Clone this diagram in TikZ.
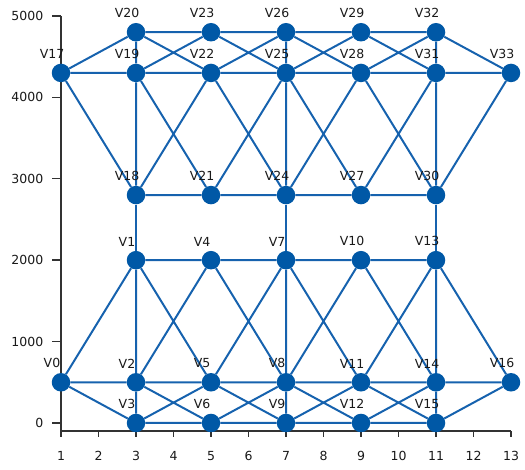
\documentclass[tikz,border=0pt]{standalone}
\usepackage{fontspec}
\setmainfont{DejaVu Sans}
\usetikzlibrary{backgrounds}
\definecolor{nodeblue}{RGB}{0,88,166}
\definecolor{edgeblue}{RGB}{22,98,174}
\definecolor{axisgray}{RGB}{50,50,50}

\begin{document}
\begin{tikzpicture}[x=37.5pt,y=0.0814pt,shift={(23.5pt,47pt)}]
\tikzstyle{lbl}=[font=\fontsize{12.5}{14}\selectfont,text=black!90,inner sep=0pt]
\tikzstyle{vert}=[circle,fill=nodeblue,minimum size=18.5pt,inner sep=0pt,label={[lbl,xshift=-9pt,yshift=4.5pt]above:#1}]
\tikzstyle{edge}=[draw=edgeblue,line width=2pt]
\tikzstyle{axis}=[draw=axisgray,line width=1.4pt]
\useasboundingbox (-23.5pt,-47pt) rectangle ++(525pt,470pt);

\node[vert=V0] (v0) at (1,500) {};
\node[vert=V1] (v1) at (3,2000) {};
\node[vert=V2] (v2) at (3,500) {};
\node[vert=V3] (v3) at (3,0) {};
\node[vert=V4] (v4) at (5,2000) {};
\node[vert=V5] (v5) at (5,500) {};
\node[vert=V6] (v6) at (5,0) {};
\node[vert=V7] (v7) at (7,2000) {};
\node[vert=V8] (v8) at (7,500) {};
\node[vert=V9] (v9) at (7,0) {};
\node[vert=V10] (v10) at (9,2000) {};
\node[vert=V11] (v11) at (9,500) {};
\node[vert=V12] (v12) at (9,0) {};
\node[vert=V13] (v13) at (11,2000) {};
\node[vert=V14] (v14) at (11,500) {};
\node[vert=V15] (v15) at (11,0) {};
\node[vert=V16] (v16) at (13,500) {};
\node[vert=V17] (v17) at (1,4300) {};
\node[vert=V18] (v18) at (3,2800) {};
\node[vert=V19] (v19) at (3,4300) {};
\node[vert=V20] (v20) at (3,4800) {};
\node[vert=V21] (v21) at (5,2800) {};
\node[vert=V22] (v22) at (5,4300) {};
\node[vert=V23] (v23) at (5,4800) {};
\node[vert=V24] (v24) at (7,2800) {};
\node[vert=V25] (v25) at (7,4300) {};
\node[vert=V26] (v26) at (7,4800) {};
\node[vert=V27] (v27) at (9,2800) {};
\node[vert=V28] (v28) at (9,4300) {};
\node[vert=V29] (v29) at (9,4800) {};
\node[vert=V30] (v30) at (11,2800) {};
\node[vert=V31] (v31) at (11,4300) {};
\node[vert=V32] (v32) at (11,4800) {};
\node[vert=V33] (v33) at (13,4300) {};

\begin{scope}[on background layer]
\draw[axis] (1,5000) -- (1,-98) -- (13,-98);
\foreach \y in {0,1000,...,5000}
  \draw[axis] (1,\y) -- ++(-9pt,0) node[lbl,anchor=east,xshift=-8pt] (yl\y) {\y};
\foreach \x in {1,...,13}
  \draw[axis] (\x,-98) -- ++(0,-6pt) node[lbl,anchor=mid,yshift=-21pt] (xl\x) {\x};

\draw[edge] (v0)--(v1) (v0)--(v2) (v0)--(v3)
  (v1)--(v2) (v2)--(v3) (v1)--(v4) (v1)--(v5) (v2)--(v4) (v2)--(v5) (v2)--(v6) (v3)--(v5) (v3)--(v6)
  (v4)--(v7) (v4)--(v8) (v5)--(v7) (v5)--(v8) (v5)--(v9) (v6)--(v8) (v6)--(v9)
  (v7)--(v8) (v8)--(v9) (v7)--(v10) (v7)--(v11) (v8)--(v10) (v8)--(v11) (v8)--(v12) (v9)--(v11) (v9)--(v12)
  (v10)--(v13) (v10)--(v14) (v11)--(v13) (v11)--(v14) (v11)--(v15) (v12)--(v14) (v12)--(v15)
  (v13)--(v14) (v14)--(v15) (v13)--(v16) (v14)--(v16) (v15)--(v16);
\draw[edge] (v18)--(v1) (v24)--(v7) (v30)--(v13);
\draw[edge] (v17)--(v20) (v17)--(v19) (v17)--(v18)
  (v20)--(v19) (v19)--(v18) (v20)--(v23) (v20)--(v22) (v19)--(v23) (v19)--(v22) (v19)--(v21) (v18)--(v22) (v18)--(v21)
  (v23)--(v26) (v23)--(v25) (v22)--(v26) (v22)--(v25) (v22)--(v24) (v21)--(v25) (v21)--(v24)
  (v26)--(v25) (v25)--(v24) (v26)--(v29) (v26)--(v28) (v25)--(v29) (v25)--(v28) (v25)--(v27) (v24)--(v28) (v24)--(v27)
  (v29)--(v32) (v29)--(v31) (v28)--(v32) (v28)--(v31) (v28)--(v30) (v27)--(v31) (v27)--(v30)
  (v32)--(v31) (v31)--(v30) (v32)--(v33) (v31)--(v33) (v30)--(v33);
\end{scope}
\end{tikzpicture}
\end{document}
